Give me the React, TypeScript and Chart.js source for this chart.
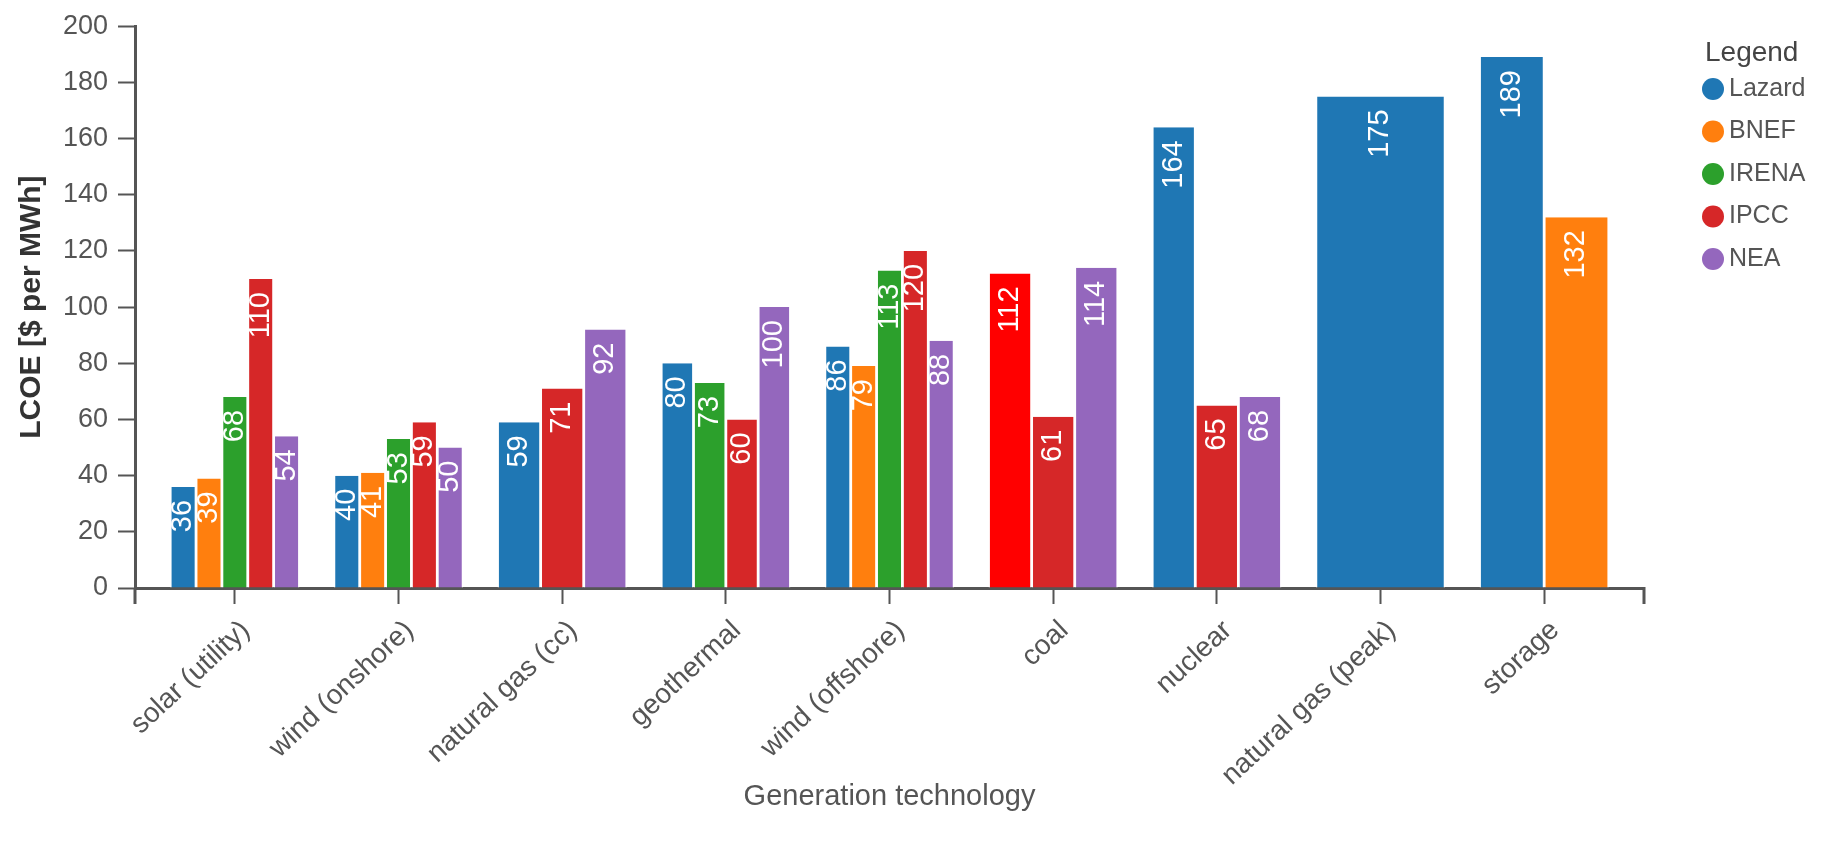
import React, { useEffect, useRef } from "react";
import { Chart, registerables } from "chart.js";

Chart.register(...registerables);

// ---- data ----
const categories = [
  "solar (utility)",
  "wind (onshore)",
  "natural gas (cc)",
  "geothermal",
  "wind (offshore)",
  "coal",
  "nuclear",
  "natural gas (peak)",
  "storage",
];
const seriesNames = ["Lazard", "BNEF", "IRENA", "IPCC", "NEA"];
const lazard = [36, 40, 59, 80, 86, 112, 164, 175, 189];
const bnef = [39, 41, null, null, 79, null, null, null, 132];
const irena = [68, 53, null, 73, 113, null, null, null, null];
const ipcc = [110, 59, 71, 60, 120, 61, 65, null, null];
const nea = [54, 50, 92, 100, 88, 114, 68, null, null];
const seriesValues = [lazard, bnef, irena, ipcc, nea];
const seriesColors = ["#1f77b4", "#ff7f0e", "#2ca02c", "#d62728", "#9467bd"];
const highlightCategory = "coal";
const highlightColor = "#ff0000";
const yMin = 0;
const yMax = 200;
const yStep = 20;

const FONT = '"Liberation Sans", Arial, Helvetica, sans-serif';
const AXIS_COLOR = "#555";
const TEXT_COLOR = "#555";
const OUTER_PAD = 0.11;

const barLabelPlugin = {
  id: "barLabels",
  afterDatasetsDraw(chart: any) {
    const ctx = chart.ctx;
    ctx.save();
    ctx.font = `29px ${FONT}`;
    ctx.fillStyle = "#ffffff";
    ctx.textAlign = "right";
    ctx.textBaseline = "middle";
    chart.data.datasets.forEach((ds: any, i: number) => {
      const meta = chart.getDatasetMeta(i);
      meta.data.forEach((el: any, j: number) => {
        const v = ds.data[j];
        if (v === null || v === undefined) return;
        ctx.save();
        ctx.translate(el.x, el.y + 13);
        ctx.rotate(-Math.PI / 2);
        ctx.fillText(String(v), 0, 0);
        ctx.restore();
      });
    });
    ctx.restore();
  },
};

const extrasPlugin = {
  id: "extras",
  afterDraw(chart: any) {
    const ctx = chart.ctx;
    const area = chart.chartArea;
    ctx.save();
    // outer ticks of the x axis
    ctx.strokeStyle = AXIS_COLOR;
    ctx.lineWidth = 3;
    ctx.beginPath();
    ctx.moveTo(area.left, area.bottom);
    ctx.lineTo(area.left, area.bottom + 16);
    ctx.moveTo(area.right, area.bottom - 1);
    ctx.lineTo(area.right, area.bottom + 16);
    ctx.stroke();

    // legend
    const lx = area.right + 61;
    ctx.fillStyle = "#444";
    ctx.font = `28px ${FONT}`;
    ctx.textAlign = "left";
    ctx.textBaseline = "middle";
    ctx.fillText("Legend", lx, 53);
    ctx.font = `25px ${FONT}`;
    chart.data.datasets.forEach((ds: any, i: number) => {
      const y = 89 + i * 42.5;
      ctx.beginPath();
      ctx.fillStyle = seriesColors[i];
      ctx.arc(lx + 8, y, 11, 0, Math.PI * 2);
      ctx.fill();
      ctx.fillStyle = TEXT_COLOR;
      ctx.fillText(ds.label, lx + 24, y);
    });
    ctx.restore();
  },
};

export default function App() {
  const ref = useRef<HTMLCanvasElement>(null);

  useEffect(() => {
    const datasets = seriesNames.map((name, i) => ({
      label: name,
      data: seriesValues[i],
      backgroundColor:
        i === 0
          ? categories.map((c) => (c === highlightCategory ? highlightColor : seriesColors[i]))
          : seriesColors[i],
      borderColor: "#ffffff",
      borderWidth: { left: 1.4, right: 1.4, top: 0, bottom: 0 },
      skipNull: true,
      categoryPercentage: 0.79,
      barPercentage: 1,
    }));

    const chart = new Chart(ref.current as HTMLCanvasElement, {
      type: "bar",
      data: { labels: categories, datasets: datasets as any },
      options: {
        responsive: false,
        devicePixelRatio: 1,
        animation: false,
        layout: { padding: { top: 22, right: 185, bottom: 0, left: 0 } },
        font: { family: FONT },
        plugins: {
          legend: { display: false },
          tooltip: { enabled: false },
        },
        scales: {
          x: {
            offset: true,
            z: 1,
            afterBuildTicks: (s: any) => {
              s._startValue = -0.5 - OUTER_PAD;
              s._valueRange = categories.length + 2 * OUTER_PAD;
            },
            afterFit: (s: any) => {
              s.height = 257;
            },
            grid: {
              offset: false,
              drawOnChartArea: false,
              drawTicks: true,
              tickLength: 16,
              tickWidth: 2,
              tickColor: AXIS_COLOR,
            },
            border: { display: true, color: AXIS_COLOR, width: 3 },
            ticks: {
              autoSkip: false,
              maxRotation: 43,
              minRotation: 43,
              labelOffset: 11,
              padding: 10,
              color: TEXT_COLOR,
              font: { family: FONT, size: 28 },
            },
            title: {
              display: true,
              text: "Generation technology",
              color: TEXT_COLOR,
              font: { family: FONT, size: 29 },
              padding: { top: 0, bottom: 31 },
            },
          },
          y: {
            min: yMin,
            max: yMax,
            afterFit: (s: any) => {
              s.width = 135;
            },
            ticks: {
              stepSize: yStep,
              padding: 10,
              color: TEXT_COLOR,
              font: { family: FONT, size: 27 },
            },
            grid: {
              drawOnChartArea: false,
              drawTicks: true,
              tickLength: 17,
              tickWidth: 2,
              tickColor: AXIS_COLOR,
            },
            border: { display: true, color: AXIS_COLOR, width: 3 },
            title: {
              display: true,
              text: "LCOE [$ per MWh]",
              color: "#333",
              font: { family: FONT, size: 30, weight: "bold" },
              padding: { top: 14, bottom: 0 },
            },
          },
        },
      },
      plugins: [barLabelPlugin, extrasPlugin],
    });
    return () => chart.destroy();
  }, []);

  return (
    <div
      style={{
        position: "fixed",
        left: 0,
        top: 0,
        width: 1829,
        height: 845,
        background: "#ffffff",
      }}
    >
      <canvas ref={ref} width={1829} height={845} style={{ display: "block" }} />
    </div>
  );
}
